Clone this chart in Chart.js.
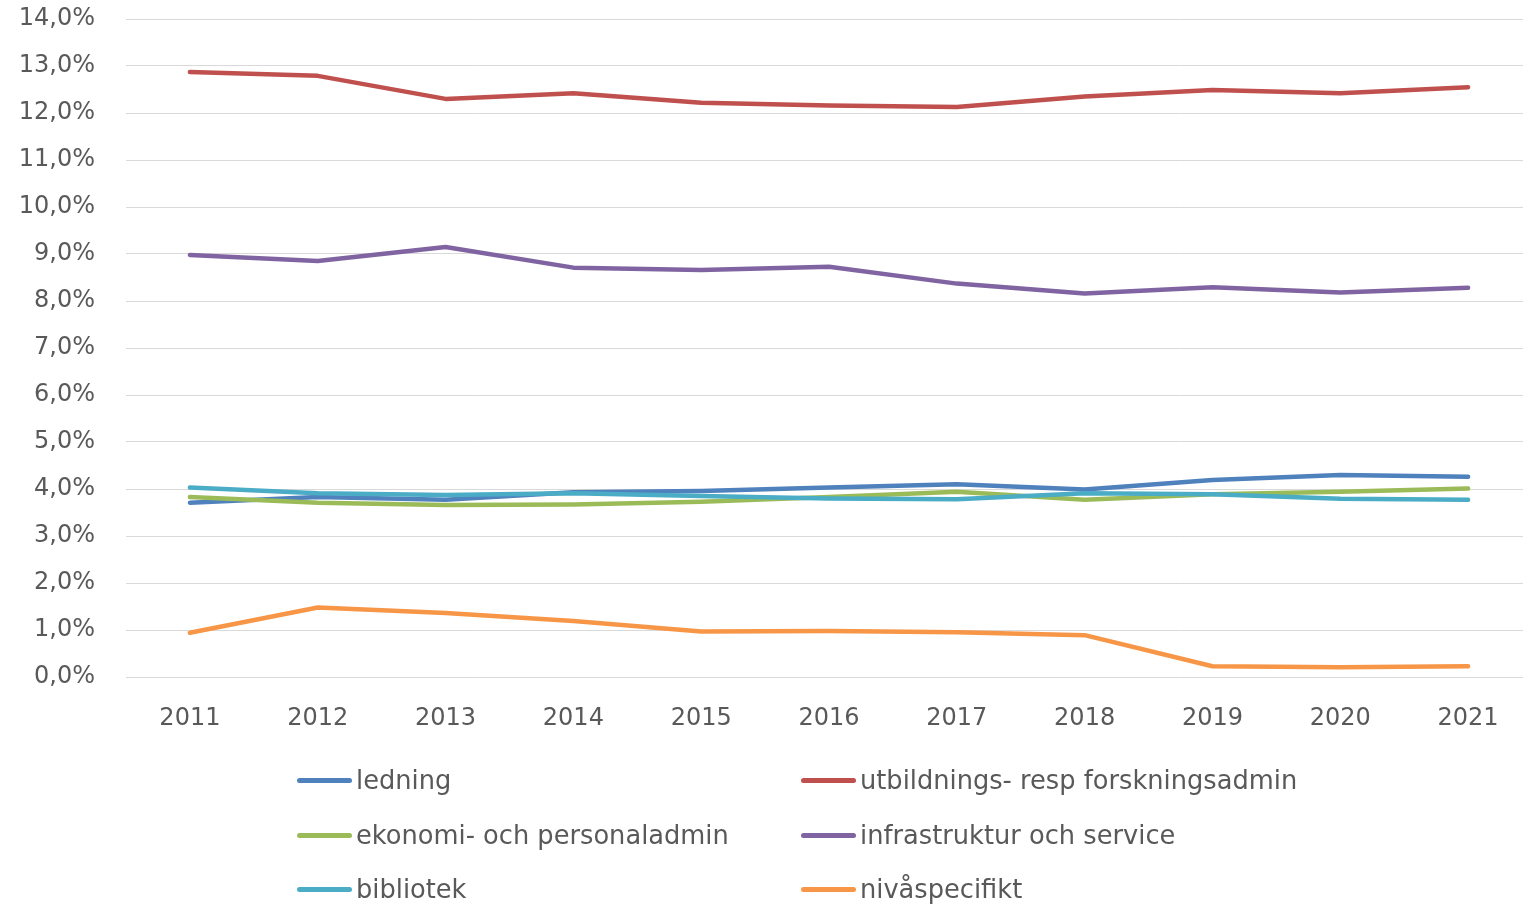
<!DOCTYPE html>
<html>
<head>
<meta charset="utf-8">
<script src="https://cdn.jsdelivr.net/npm/chart.js@4.4.1/dist/chart.umd.min.js"></script>
<style>
  html, body { margin: 0; padding: 0; background: #ffffff; overflow: hidden; width: 1523px; height: 905px; }
  #wrap { position: absolute; left: 0; top: 0; width: 1532px; height: 745px; }
  #legend { position: absolute; left: 0; top: 0; width: 1523px; height: 905px; pointer-events: none; }
  .item { position: absolute; height: 40px; display: flex; align-items: center; font-family: "DejaVu Sans", sans-serif; font-size: 25.7px; color: #595959; white-space: nowrap; }
  .sw { width: 55px; height: 5px; border-radius: 3px; margin-right: 4px; }
</style>
</head>
<body>
<div id="wrap"><canvas id="c"></canvas></div>
<div id="legend"></div>
<script>
const years = ['2011','2012','2013','2014','2015','2016','2017','2018','2019','2020','2021'];
const yTickLabels = ['0,0%','1,0%','2,0%','3,0%','4,0%','5,0%','6,0%','7,0%','8,0%','9,0%','10,0%','11,0%','12,0%','13,0%','14,0%'];

const ledning =        [3.71, 3.83, 3.77, 3.93, 3.96, 4.03, 4.10, 3.99, 4.19, 4.30, 4.26];
const utbildning =     [12.87, 12.79, 12.30, 12.42, 12.22, 12.16, 12.13, 12.35, 12.49, 12.42, 12.55];
const ekonomi =        [3.83, 3.71, 3.66, 3.67, 3.73, 3.83, 3.94, 3.77, 3.89, 3.94, 4.01];
const infrastruktur =  [8.98, 8.85, 9.15, 8.71, 8.66, 8.73, 8.37, 8.16, 8.29, 8.18, 8.28];
const bibliotek =      [4.03, 3.91, 3.87, 3.91, 3.85, 3.80, 3.78, 3.91, 3.89, 3.79, 3.77];
const nivaspecifikt =  [0.94, 1.48, 1.36, 1.19, 0.97, 0.98, 0.95, 0.89, 0.23, 0.21, 0.23];

const seriesNames = ['ledning', 'utbildnings- resp forskningsadmin', 'ekonomi- och personaladmin', 'infrastruktur och service', 'bibliotek', 'nivåspecifikt'];
const seriesData = [ledning, utbildning, ekonomi, infrastruktur, bibliotek, nivaspecifikt];
const seriesColors = ['#4F81BD', '#C0504D', '#9BBB59', '#8064A2', '#4BACC6', '#F79646'];

const datasets = seriesData.map((d, i) => ({
  label: seriesNames[i],
  data: d,
  borderColor: seriesColors[i],
  backgroundColor: seriesColors[i],
  borderWidth: 4.5,
  pointRadius: 0,
  pointHoverRadius: 0,
  tension: 0,
  fill: false,
  borderCapStyle: 'round',
  borderJoinStyle: 'round',
  order: seriesData.length - i
}));

const chart = new Chart(document.getElementById('c'), {
  type: 'line',
  data: { labels: years, datasets: datasets },
  options: {
    responsive: true,
    maintainAspectRatio: false,
    animation: false,
    layout: { padding: { top: 19, right: 0, bottom: 0, left: 0 } },
    plugins: { legend: { display: false }, tooltip: { enabled: false } },
    scales: {
      x: {
        offset: true,
        grid: { display: false, drawTicks: false, offset: true },
        border: { display: false },
        ticks: { color: '#595959', font: { family: 'DejaVu Sans', size: 24 }, padding: 27, maxRotation: 0 },
        afterFit: (s) => { s.height = 68; s.paddingLeft = 0; s.paddingRight = 0; }
      },
      y: {
        min: 0, max: 14,
        grid: { color: '#d9d9d9', lineWidth: 1, drawTicks: false },
        border: { display: false },
        ticks: {
          stepSize: 1,
          color: '#595959',
          font: { family: 'DejaVu Sans', size: 24 },
          padding: 31,
          callback: (v, idx) => yTickLabels[idx]
        },
        afterFit: (s) => { s.width = 126; s.paddingTop = 0; s.paddingBottom = 0; }
      }
    }
  }
});

const legendEl = document.getElementById('legend');
const colX = [297, 801];
const rowY = [780, 835, 889];
chart.data.datasets.forEach((ds, i) => {
  const it = document.createElement('div');
  it.className = 'item';
  it.style.left = colX[i % 2] + 'px';
  it.style.top = (rowY[Math.floor(i / 2)] - 20) + 'px';
  const sw = document.createElement('span');
  sw.className = 'sw';
  sw.style.background = ds.borderColor;
  const tx = document.createElement('span');
  tx.textContent = ds.label;
  it.appendChild(sw);
  it.appendChild(tx);
  legendEl.appendChild(it);
});
</script>
</body>
</html>
